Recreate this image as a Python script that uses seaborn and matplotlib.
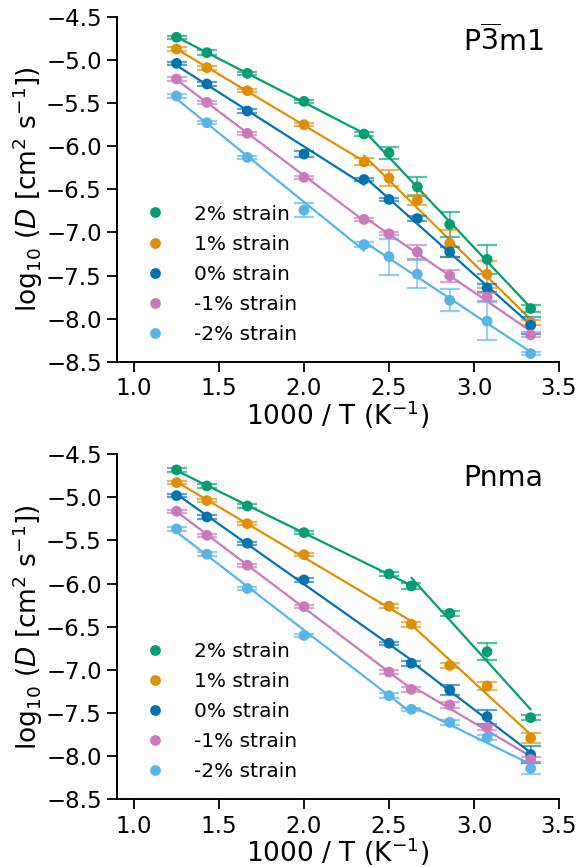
import numpy as np
import pandas as pd
import matplotlib
matplotlib.use("Agg")
import matplotlib.pyplot as plt
import seaborn as sns

# ---------------- data ----------------
labels = ["2% strain", "1% strain", "0% strain", "-1% strain", "-2% strain"]

x_top = [1.25, 1.4286, 1.6667, 2.0, 2.3529, 2.5, 2.6667, 2.8571, 3.0769, 3.3333]
y_top_p2 = [-4.739, -4.917, -5.157, -5.481, -5.860, -6.077, -6.471, -6.907, -7.311, -7.881]
y_top_p1 = [-4.875, -5.091, -5.358, -5.752, -6.181, -6.370, -6.625, -7.127, -7.483, -8.040]
y_top_0 = [-5.041, -5.280, -5.593, -6.092, -6.386, -6.617, -6.838, -7.225, -7.642, -8.075]
y_top_m1 = [-5.222, -5.493, -5.852, -6.362, -6.849, -7.015, -7.225, -7.500, -7.746, -8.186]
y_top_m2 = [-5.419, -5.729, -6.130, -6.741, -7.140, -7.280, -7.483, -7.785, -8.027, -8.403]
e_top_p2 = [0.02, 0.025, 0.02, 0.015, 0.02, 0.07, 0.11, 0.145, 0.17, 0.045]
e_top_p1 = [0.02, 0.025, 0.02, 0.015, 0.04, 0.09, 0.06, 0.155, 0.155, 0.03]
e_top_0 = [0.02, 0.02, 0.02, 0.03, 0.02, 0.02, 0.03, 0.06, 0.05, 0.10]
e_top_m1 = [0.02, 0.02, 0.02, 0.02, 0.02, 0.02, 0.08, 0.07, 0.05, 0.03]
e_top_m2 = [0.02, 0.02, 0.02, 0.085, 0.03, 0.21, 0.16, 0.125, 0.22, 0.02]
break_top = 4

x_bot = [1.25, 1.4286, 1.6667, 2.0, 2.5, 2.6316, 2.8571, 3.0769, 3.3333]
y_bot_p2 = [-4.682, -4.868, -5.100, -5.409, -5.888, -6.027, -6.344, -6.789, -7.554]
y_bot_p1 = [-4.829, -5.038, -5.305, -5.664, -6.261, -6.470, -6.948, -7.187, -7.790]
y_bot_0 = [-4.980, -5.227, -5.532, -5.957, -6.691, -6.923, -7.233, -7.542, -7.982]
y_bot_m1 = [-5.161, -5.439, -5.787, -6.267, -7.025, -7.226, -7.407, -7.667, -8.038]
y_bot_m2 = [-5.366, -5.659, -6.056, -6.601, -7.299, -7.457, -7.608, -7.786, -8.141]
e_bot_p2 = [0.02, 0.02, 0.02, 0.02, 0.02, 0.03, 0.03, 0.10, 0.03]
e_bot_p1 = [0.02, 0.02, 0.02, 0.02, 0.02, 0.03, 0.03, 0.05, 0.06]
e_bot_0 = [0.02, 0.02, 0.02, 0.02, 0.02, 0.03, 0.06, 0.08, 0.10]
e_bot_m1 = [0.02, 0.02, 0.02, 0.02, 0.02, 0.03, 0.03, 0.03, 0.03]
e_bot_m2 = [0.02, 0.02, 0.02, 0.02, 0.03, 0.02, 0.03, 0.03, 0.07]
break_bot = 5

panel_titles = [r"P$\overline{3}$m1", "Pnma"]
x_ticks = [1.0, 1.5, 2.0, 2.5, 3.0, 3.5]
y_ticks = [-4.5, -5.0, -5.5, -6.0, -6.5, -7.0, -7.5, -8.0, -8.5]

# ---------------- style ----------------
sns.set_theme(style="ticks")
plt.rcParams["font.family"] = ["DejaVu Sans"]
plt.rcParams["mathtext.fontset"] = "dejavusans"
for key in ("text.color", "axes.labelcolor", "xtick.color", "ytick.color",
            "axes.edgecolor"):
    plt.rcParams[key] = "black"
palette = sns.color_palette("colorblind")
colors = [palette[2], palette[1], palette[0], palette[4], palette[9]]

fig = plt.figure(figsize=(5.77, 8.67), dpi=100)
ax_top = fig.add_axes([0.2028, 0.5825, 0.766, 0.3983])
ax_bot = fig.add_axes([0.2028, 0.0781, 0.766, 0.398])

panels = [
    (ax_top, x_top, [y_top_p2, y_top_p1, y_top_0, y_top_m1, y_top_m2],
     [e_top_p2, e_top_p1, e_top_0, e_top_m1, e_top_m2], break_top),
    (ax_bot, x_bot, [y_bot_p2, y_bot_p1, y_bot_0, y_bot_m1, y_bot_m2],
     [e_bot_p2, e_bot_p1, e_bot_0, e_bot_m1, e_bot_m2], break_bot),
]

for (ax, xs, ys, es, brk), title in zip(panels, panel_titles):
    rows = []
    for lab, yv, ev in zip(labels, ys, es):
        for xv, yy, ee in zip(xs, yv, ev):
            rows.append({"x": xv, "y": yy, "err": ee, "strain": lab})
    df = pd.DataFrame(rows)

    # fitted Arrhenius segments (least squares on each regime)
    for lab, c in zip(labels, colors):
        sub = df[df.strain == lab].reset_index(drop=True)
        for seg in (sub.iloc[:brk + 1], sub.iloc[brk:]):
            k, b = np.polyfit(seg.x, seg.y, 1)
            xf = np.array([seg.x.min(), seg.x.max()])
            sns.lineplot(x=xf, y=k * xf + b, color=c, lw=1.6, ax=ax,
                         legend=False, zorder=2)
        ax.errorbar(sub.x, sub.y, yerr=sub.err, fmt="none", ecolor=c,
                    elinewidth=1.3, capsize=7, capthick=1.6, alpha=0.65,
                    zorder=2.5)

    sns.scatterplot(data=df, x="x", y="y", hue="strain", hue_order=labels,
                    palette=colors, s=60, edgecolor="none", ax=ax, zorder=3)

    ax.set_xlim(0.9, 3.5)
    ax.set_ylim(-8.5, -4.5)
    ax.set_xticks(x_ticks)
    ax.set_yticks(y_ticks)
    ax.tick_params(axis="both", labelsize=16.5, length=7, width=1.3, pad=4)
    for sp in ("left", "bottom"):
        ax.spines[sp].set_linewidth(1.4)
    sns.despine(ax=ax)
    ax.set_xlabel(r"1000 / T (K$^{-1}$)", fontsize=19, labelpad=-1.5)
    ax.set_ylabel(r"log$_{10}$ ($D$ [cm$^2$ s$^{-1}$])", fontsize=19,
                  labelpad=1)
    ax.text(0.965, 0.93, title, transform=ax.transAxes, ha="right",
            va="center", fontsize=20.5)
    ax.legend(loc="lower left", bbox_to_anchor=(0.0, 0.0), frameon=False,
              fontsize=14.5, handletextpad=0.9, labelspacing=0.55,
              markerscale=1.0)

fig.savefig("out.png", dpi=100)
